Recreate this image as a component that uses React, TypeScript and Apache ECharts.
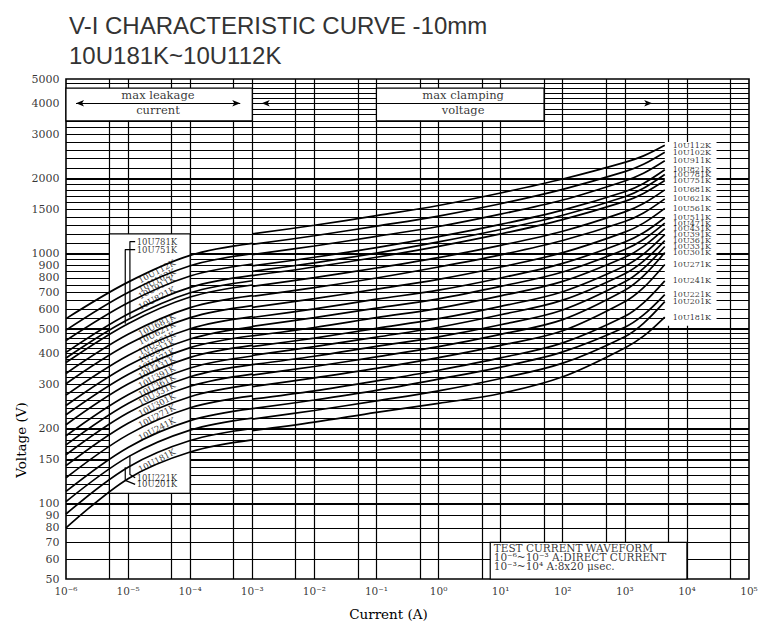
import React, { useEffect, useRef } from "react";
import * as echarts from "echarts";

const TITLE = ["V-I CHARACTERISTIC CURVE -10mm", "10U181K~10U112K"];
const X_NAME = "Current (A)";
const Y_NAME = "Voltage (V)";

const models = [
  "10U112K", "10U102K", "10U911K", "10U821K", "10U781K", "10U751K", "10U681K",
  "10U621K", "10U561K", "10U511K", "10U471K", "10U431K", "10U391K", "10U361K",
  "10U331K", "10U301K", "10U271K", "10U241K", "10U221K", "10U201K", "10U181K",
];

// leakage (DC) part
const dcCurrents = [1e-6, 1e-5, 1e-4, 1e-3];
const dcVoltages = [
  [550, 770, 985, 1100],
  [495, 700, 895, 1000],
  [450, 637, 815, 910],
  [403, 574, 734, 820],
  [383, 546, 698, 780],
  [367, 525, 671, 750],
  [332, 476, 609, 680],
  [302, 434, 555, 620],
  [272, 392, 501, 560],
  [247, 357, 456, 510],
  [227, 329, 421, 470],
  [207, 301, 385, 430],
  [187, 273, 349, 390],
  [172, 252, 322, 360],
  [157, 231, 295, 330],
  [142, 210, 268, 300],
  [127, 189, 242, 270],
  [112, 168, 215, 240],
  [102, 154, 197, 220],
  [91, 140, 179, 200],
  [80, 126, 161, 180],
];

// clamping (8x20us) part
const pulseCurrents = [1e-3, 1e-2, 1e-1, 1, 10, 100, 1000, 2000, 4400];
const pulseVoltages = [
  [1200, 1300, 1420, 1560, 1750, 1990, 2320, 2463, 2716],
  [1090, 1180, 1290, 1415, 1585, 1810, 2130, 2280, 2548],
  [992, 1074, 1174, 1285, 1440, 1640, 1955, 2098, 2353],
  [894, 968, 1058, 1170, 1310, 1495, 1770, 1911, 2167],
  [850, 920, 1006, 1115, 1250, 1425, 1690, 1827, 2074],
  [818, 885, 968, 1070, 1200, 1370, 1620, 1743, 1963],
  [741, 802, 877, 965, 1080, 1230, 1470, 1588, 1800],
  [676, 732, 800, 885, 990, 1130, 1345, 1456, 1658],
  [610, 661, 722, 790, 885, 1010, 1220, 1326, 1519],
  [556, 602, 658, 715, 800, 915, 1115, 1213, 1393],
  [512, 555, 606, 660, 740, 845, 1040, 1140, 1325],
  [469, 507, 555, 605, 678, 775, 968, 1070, 1260],
  [425, 460, 503, 550, 616, 705, 893, 997, 1192],
  [392, 425, 464, 508, 570, 652, 832, 934, 1129],
  [360, 389, 426, 465, 520, 596, 772, 874, 1069],
  [327, 354, 387, 425, 476, 545, 714, 815, 1011],
  [294, 319, 348, 384, 430, 492, 643, 732, 906],
  [262, 283, 310, 342, 383, 440, 562, 636, 779],
  [240, 260, 284, 315, 352, 405, 508, 569, 686],
  [218, 236, 258, 283, 317, 365, 466, 527, 643],
  [196, 212, 232, 252, 276, 322, 420, 468, 558],
];

const rightLabelVoltages = [2716, 2548, 2353, 2167, 2074, 1963, 1800, 1658, 1519, 1393, 1325, 1260, 1192, 1129, 1069, 1011, 906, 779, 686, 643, 558];

const slantLabels: [string, number][] = [
  ["10U112K", 850], ["10U102K", 783], ["10U911K", 734], ["10U821K", 664],
  ["10U681K", 519], ["10U621K", 482], ["10U561K", 440], ["10U511K", 409],
  ["10U471K", 376], ["10U431K", 350], ["10U391K", 322], ["10U361K", 297],
  ["10U331K", 276], ["10U301K", 249], ["10U271K", 224], ["10U241K", 199],
  ["10U181K", 149],
];
const flatLabels: [string, number][] = [
  ["10U781K", 1119], ["10U751K", 1039], ["10U221K", 127], ["10U201K", 119.5],
];
const leaders: [number, number][][] = [
  [[1.3e-5, 1119], [1.07e-5, 1119], [1.07e-5, 556]],
  [[1.3e-5, 1039], [9.0e-6, 1039], [9.0e-6, 525]],
  [[1.07e-5, 156], [1.07e-5, 131], [1.3e-5, 127]],
  [[9.0e-6, 140], [9.0e-6, 124], [1.3e-5, 119.5]],
];

const xTickExponents = [-6, -5, -4, -3, -2, -1, 0, 1, 2, 3, 4, 5];
const yTicks = [50, 60, 70, 80, 90, 100, 150, 200, 300, 400, 500, 600, 700, 800, 900, 1000, 1500, 2000, 3000, 4000, 5000];
const hGrid = [
  60, 70, 80, 90, 100, 110, 120, 130, 140, 150, 160, 170, 180, 190, 200,
  220, 240, 260, 280, 300, 320, 340, 360, 380, 400, 420, 440, 460, 480, 500,
  550, 600, 650, 700, 750, 800, 850, 900, 950, 1000,
  1100, 1200, 1300, 1400, 1500, 1600, 1700, 1800, 1900, 2000,
  2200, 2400, 2600, 2800, 3000, 3200, 3400, 3600, 3800, 4000, 4200, 4400, 4600, 4800,
];
const hGridBold = [100, 150, 200, 500, 1000, 2000];
const vGrid = [5e-6, 1e-5, 5e-5, 1e-4, 5e-4, 1e-3, 5e-3, 1e-2, 5e-2, 1e-1, 5e-1, 1, 5, 10, 50, 100, 500, 1000, 5000, 10000, 50000];

const waveformText = [
  "TEST CURRENT WAVEFORM",
  "10⁻⁶~10⁻³ A:DIRECT CURRENT",
  "10⁻³~10⁴ A:8x20 μsec.",
];

const SERIF = '"DejaVu Serif", "Liberation Serif", serif';
const SUP: Record<string, string> = {
  "-": "⁻", "0": "⁰", "1": "¹", "2": "²", "3": "³", "4": "⁴",
  "5": "⁵", "6": "⁶", "7": "⁷", "8": "⁸", "9": "⁹",
};
const sup = (n: number) => String(n).split("").map((c) => SUP[c] ?? c).join("");

export default function App() {
  const ref = useRef<HTMLDivElement>(null);
  useEffect(() => {
    const chart = echarts.init(ref.current!, null, { renderer: "svg" });

    const curveSeries: any[] = [];
    models.forEach((m, i) => {
      curveSeries.push({
        name: m + " leakage",
        type: "line",
        z: 3,
        silent: true,
        smooth: 0.35,
        symbol: "none",
        lineStyle: { color: "#000", width: 1.7 },
        data: dcCurrents.map((c, j) => [c, dcVoltages[i][j]]),
      });
      curveSeries.push({
        name: m,
        type: "line",
        z: 3,
        silent: true,
        smooth: 0.35,
        symbol: "none",
        lineStyle: { color: "#000", width: 1.7 },
        data: pulseCurrents.map((c, j) => [c, pulseVoltages[i][j]]),
      });
    });

    const leaderSeries = leaders.map((pts) => ({
      type: "line",
      z: 3,
      silent: true,
      symbol: "none",
      lineStyle: { color: "#000", width: 1.2 },
      data: pts,
    }));

    const gridSeries = {
      type: "line",
      z: 1,
      silent: true,
      symbol: "none",
      data: [[1, 100]],
      lineStyle: { opacity: 0 },
      markLine: {
        z: 1,
        silent: true,
        symbol: "none",
        precision: 12,
        animation: false,
        label: { show: false },
        emphasis: { disabled: true },
        data: [
          ...hGrid.map((v) => ({
            yAxis: v,
            lineStyle: { color: "#000", type: "solid", width: hGridBold.includes(v) ? 1.9 : 1 },
          })),
          ...vGrid.map((v) => ({
            xAxis: v,
            lineStyle: { color: "#000", type: "solid", width: 1.2 },
          })),
        ],
      },
    };

    const boxStyle = { color: "#fff", borderColor: "#000", borderWidth: 1.2 };
    const boxSeries = {
      type: "line",
      z: 2,
      silent: true,
      symbol: "none",
      data: [[1, 100]],
      lineStyle: { opacity: 0 },
      markArea: {
        z: 2,
        silent: true,
        precision: 12,
        animation: false,
        label: { show: false },
        emphasis: { disabled: true },
        data: [
          [{ xAxis: 1e-6, yAxis: 3400, itemStyle: boxStyle }, { xAxis: 1e-3, yAxis: 4600 }],
          [{ xAxis: 1e-1, yAxis: 3400, itemStyle: boxStyle }, { xAxis: 50, yAxis: 4600 }],
          [{ xAxis: 5e-6, yAxis: 110, itemStyle: boxStyle }, { xAxis: 1e-4, yAxis: 1200 }],
          [{ xAxis: 4400, yAxis: 515, itemStyle: { color: "#fff", borderWidth: 0 } }, { xAxis: 30000, yAxis: 2800 }],
          [{ xAxis: 6.8, yAxis: 50, itemStyle: boxStyle }, { xAxis: 10000, yAxis: 70 }],
        ],
      },
    };

    const arrowSeries = {
      type: "line",
      z: 4,
      silent: true,
      symbol: "none",
      data: [[1, 100]],
      lineStyle: { opacity: 0 },
      markLine: {
        z: 4,
        silent: true,
        animation: false,
        precision: 12,
        symbol: ["arrow", "arrow"],
        symbolSize: [5, 8],
        label: { show: false },
        emphasis: { disabled: true },
        lineStyle: { color: "#000", type: "solid", width: 1 },
        data: [
          [{ coord: [1.45e-6, 4000] }, { coord: [6.4e-4, 4000] }],
          [{ coord: [1.42e-3, 4000] }, { coord: [2760, 4000] }],
        ],
      },
    };

    const labelBase = { symbol: "circle", symbolSize: 1, itemStyle: { color: "rgba(0,0,0,0)" }, silent: true, clip: false, z: 5 };

    const slantSeries = {
      ...labelBase,
      type: "scatter",
      data: slantLabels.map(([t, v]) => ({ value: [2.9e-5, v], label: { formatter: t } })),
      label: { show: true, position: "inside", rotate: 28, fontFamily: SERIF, fontSize: 8.5, color: "#000" },
    };
    const flatSeries = {
      ...labelBase,
      type: "scatter",
      data: flatLabels.map(([t, v]) => ({ value: [1.3e-5, v], label: { formatter: t } })),
      label: { show: true, position: "right", distance: 1, fontFamily: SERIF, fontSize: 8.5, color: "#000" },
    };
    const rightSeries = {
      ...labelBase,
      type: "scatter",
      data: models.map((m, i) => ({ value: [5600, rightLabelVoltages[i]], label: { formatter: m } })),
      label: { show: true, position: "right", distance: 1, fontFamily: SERIF, fontSize: 8, lineHeight: 7, color: "#000" },
    };
    const yTickSeries = {
      ...labelBase,
      type: "scatter",
      data: yTicks.map((v) => ({ value: [1e-6, v], label: { formatter: String(v) } })),
      label: { show: true, position: "left", distance: 6, fontFamily: SERIF, fontSize: 11, color: "#000" },
    };
    const xTickSeries = {
      ...labelBase,
      type: "scatter",
      data: xTickExponents.map((e) => ({ value: [Math.pow(10, e), 50], label: { formatter: "10" + sup(e) } })),
      label: { show: true, position: "bottom", distance: 6, fontFamily: SERIF, fontSize: 10.5, color: "#000" },
    };
    const boxTextSeries = {
      ...labelBase,
      type: "scatter",
      data: [
        { value: [3.03e-5, 4296], label: { formatter: "max leakage" } },
        { value: [3.03e-5, 3742], label: { formatter: "current" } },
        { value: [2.49, 4296], label: { formatter: "max clamping" } },
        { value: [2.49, 3742], label: { formatter: "voltage" } },
      ],
      label: { show: true, position: "inside", fontFamily: SERIF, fontSize: 11.5, color: "#000" },
    };
    const waveSeries = {
      ...labelBase,
      type: "scatter",
      data: [{ value: [7.6, 61], label: { formatter: waveformText.join("\n") } }],
      label: { show: true, position: "right", distance: 0, align: "left", lineHeight: 9, fontFamily: SERIF, fontSize: 10.5, color: "#000" },
    };

    const option: any = {
      animation: false,
      backgroundColor: "#fff",
      title: {
        text: TITLE.join("\n"),
        left: 64,
        top: 5,
        textStyle: { fontFamily: '"Liberation Sans", Arial, sans-serif', fontSize: 24, fontWeight: "normal", color: "#333", lineHeight: 30 },
      },
      grid: { left: 66, top: 79, width: 683, height: 504, show: true, borderColor: "#000", borderWidth: 1.6, backgroundColor: "transparent" },
      xAxis: {
        type: "log",
        logBase: 10,
        min: 1e-6,
        max: 1e5,
        axisLine: { show: false },
        axisTick: { show: false },
        splitLine: { show: false },
        axisLabel: { show: false },
        name: X_NAME,
        nameLocation: "middle",
        nameGap: 28,
        nameTextStyle: { fontFamily: SERIF, fontSize: 13.5, color: "#000", padding: [0, 38, 0, 0] },
      },
      yAxis: {
        type: "log",
        logBase: 10,
        min: 50,
        max: 5000,
        axisLine: { show: false },
        axisTick: { show: false },
        splitLine: { show: false },
        axisLabel: { show: false },
      },
      graphic: [
        {
          type: "text",
          x: 21,
          y: 440,
          rotation: Math.PI / 2,
          style: { text: Y_NAME, font: '13.5px "DejaVu Serif"', fill: "#000", textAlign: "center", textVerticalAlign: "middle" },
        },
      ],
      series: [
        gridSeries,
        boxSeries,
        ...curveSeries,
        ...leaderSeries,
        arrowSeries,
        slantSeries,
        flatSeries,
        rightSeries,
        yTickSeries,
        xTickSeries,
        boxTextSeries,
        waveSeries,
      ],
    };
    chart.setOption(option);
    return () => chart.dispose();
  }, []);
  return <div ref={ref} style={{ position: "fixed", left: 0, top: 0, width: 766, height: 626 }} />;
}
